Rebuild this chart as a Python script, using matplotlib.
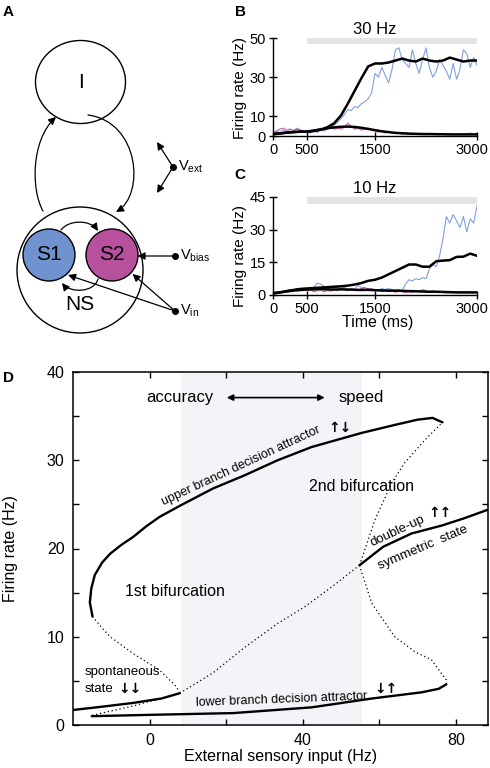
import numpy as np
import matplotlib
matplotlib.use('Agg')
import matplotlib.pyplot as plt
from matplotlib.patches import Ellipse, Circle, FancyArrowPatch
from matplotlib.path import Path
from matplotlib.transforms import ScaledTranslation

plt.rcParams['font.family'] = ['Liberation Sans', 'DejaVu Sans']
plt.rcParams['mathtext.fontset'] = 'custom'
plt.rcParams['mathtext.rm'] = 'Liberation Sans'
plt.rcParams['mathtext.it'] = 'Liberation Sans'

# ---------------- data: panels B and C ----------------
t_coarse = np.arange(0, 3001, 100)
t_fine = np.arange(0, 3001, 50)
stim_window = [500, 3000]

b_mean_s1 = [1.0, 1.3, 1.7, 2.0, 2.2, 2.2, 2.5, 3.2, 4.5, 6.5,
             10.5, 16.5, 23.0, 29.5, 35.5, 37.0, 37.0, 37.5, 38.5, 39.5,
             38.5, 38.0, 39.5, 38.5, 38.0, 38.5, 40.0, 39.0, 38.0, 38.5,
             38.5]
b_mean_s2 = [1.0, 1.3, 1.7, 2.0, 2.2, 2.3, 2.8, 3.3, 4.0, 4.4,
             4.7, 4.8, 4.6, 4.2, 3.6, 3.0, 2.4, 2.0, 1.6, 1.4,
             1.2, 1.1, 1.0, 1.0, 0.9, 0.9, 0.8, 0.8, 0.8, 0.8,
             0.8]
b_trial_s1 = [1.5, 2.5, 1.8, 3.0, 2.2, 3.5, 2.8, 4.0, 3.2, 2.5,
              2.0, 1.5, 2.8, 1.8, 3.0, 2.5, 3.5, 4.5, 5.5, 7.0,
              9.0, 11.0, 13.5, 13.0, 15.0, 14.5, 16.5, 17.5, 19.0, 22.0,
              32.0, 30.0, 35.0, 31.0, 27.0, 34.0, 44.0, 45.0, 39.0, 37.0,
              35.0, 44.0, 37.0, 32.0, 39.0, 45.0, 35.0, 30.0, 33.0, 39.0,
              36.0, 33.0, 29.0, 37.0, 29.0, 34.0, 44.0, 42.0, 35.0, 40.0,
              36.0]
b_trial_s2 = [1.5, 2.5, 3.5, 4.0, 3.0, 3.5, 2.5, 3.5, 3.0, 2.5,
              2.0, 2.5, 3.0, 3.5, 4.0, 3.0, 3.5, 4.5, 3.5, 4.0,
              3.5, 4.5, 6.5, 5.0, 3.5, 4.0, 3.0, 3.5, 4.0, 3.0,
              2.5, 2.0, 2.5, 1.5, 2.0, 1.5, 1.2, 1.5, 1.0, 1.3,
              1.0, 1.2, 0.8, 1.0, 1.2, 0.8, 1.0, 0.8, 1.2, 1.0,
              0.8, 1.0, 1.3, 1.0, 0.8, 1.2, 1.0, 1.2, 1.5, 1.0,
              1.2]

c_mean_s1 = [0.8, 1.2, 1.8, 2.3, 2.8, 3.0, 3.2, 3.4, 3.6, 3.8,
             4.0, 4.3, 4.8, 5.5, 6.5, 7.0, 8.0, 9.5, 11.0, 12.5,
             14.0, 14.0, 13.0, 13.0, 15.5, 15.8, 16.0, 17.5, 17.6, 19.0,
             18.0]
c_mean_s2 = [0.8, 1.2, 1.6, 2.0, 2.3, 2.5, 2.6, 2.7, 2.6, 2.5,
             2.6, 2.5, 2.4, 2.3, 2.4, 2.2, 2.1, 2.0, 2.0, 1.9,
             1.8, 1.7, 1.6, 1.5, 1.5, 1.4, 1.3, 1.2, 1.2, 1.2,
             1.2]
c_trial_s1 = [0.5, 1.0, 1.5, 1.0, 2.0, 1.5, 2.5, 2.0, 3.0, 2.5,
              2.0, 2.5, 3.5, 5.5, 5.0, 4.0, 3.5, 4.0, 3.0, 3.5,
              3.0, 3.5, 2.5, 3.0, 2.5, 4.5, 3.5, 2.5, 3.0, 2.0,
              2.5, 2.0, 3.0, 2.5, 3.0, 2.5, 2.0, 2.5, 2.0, 5.0,
              7.0, 6.5, 7.5, 7.0, 8.0, 7.5, 12.0, 14.0, 13.0, 18.0,
              26.0, 36.0, 33.0, 37.0, 34.0, 31.0, 36.0, 29.0, 35.0, 33.0,
              41.0]
c_trial_s2 = [0.5, 1.0, 1.5, 1.2, 2.0, 2.5, 2.0, 3.0, 2.5, 3.0,
              2.0, 2.5, 1.5, 2.0, 2.5, 1.5, 2.0, 1.8, 2.5, 2.0,
              3.0, 2.5, 2.0, 3.0, 2.5, 2.0, 3.0, 3.5, 2.5, 3.0,
              2.0, 2.5, 1.5, 2.0, 1.5, 2.0, 1.2, 1.8, 1.5, 1.0,
              1.5, 1.2, 2.0, 1.5, 2.5, 2.0, 1.5, 2.0, 1.5, 1.2,
              1.5, 1.0, 1.2, 1.5, 1.0, 1.2, 1.5, 1.0, 1.2, 1.0,
              1.2]

time_ticks = [0, 500, 1500, 3000]
b_yticks = [0, 10, 30, 50]
c_yticks = [0, 15, 30, 45]

# ---------------- data: panel D (bifurcation diagram) ----------------
upper_x = [-15.0, -15.7, -15.3, -14.4, -12.5, -10.4, -7.5, -4.4, -1.0, 2.6, 8.1,
           16.5, 24.8, 33.4, 42.3, 55.4, 64.0, 70.0, 73.9, 76.5]
upper_y = [12.3, 13.9, 15.5, 17.0, 18.4, 19.4, 20.4, 21.3, 22.5, 23.6, 24.9,
           26.8, 28.3, 30.0, 31.5, 33.1, 34.0, 34.6, 34.8, 34.3]
spont_x = [-20.1, -12.0, -4.4, 3.0, 7.8]
spont_y = [1.7, 2.1, 2.5, 3.0, 3.6]
lower_x = [-15.2, 0.0, 21.8, 42.3, 58.0, 71.0, 75.5, 77.5]
lower_y = [1.0, 1.15, 1.35, 2.0, 3.0, 3.7, 4.1, 4.6]
sym_x = [54.8, 61.0, 68.4, 76.3, 82.0, 88.4]
sym_y = [18.1, 20.2, 21.7, 22.6, 23.4, 24.4]
unst1_x = [-15.0, -12.5, -10.4, -4.4, 2.6, 7.0, 7.8]
unst1_y = [12.3, 11.0, 10.0, 8.1, 6.2, 4.3, 3.6]
unst2_x = [-15.1, -4.0, 7.8]
unst2_y = [1.1, 2.2, 3.6]
unst3_x = [7.8, 16.5, 24.8, 33.4, 40.5, 48.0, 54.8]
unst3_y = [3.6, 5.9, 8.8, 11.5, 13.4, 15.8, 18.1]
unst4_x = [54.8, 58.8, 63.2, 66.6, 71.9, 76.5]
unst4_y = [18.1, 23.2, 27.4, 29.7, 32.3, 34.3]
unst5_x = [54.8, 58.0, 64.0, 69.3, 73.6, 77.5, 77.5]
unst5_y = [18.1, 13.8, 10.0, 8.3, 7.4, 5.1, 4.6]
shade_range = [8.1, 55.4]

BLUE = '#7fa0d8'
PINK = '#c45ea3'
S1_COL = '#7092cf'
S2_COL = '#b8519d'
ARROW_FONT = ['DejaVu Sans']

fig = plt.figure(figsize=(4.9, 7.68), dpi=100)

# ---------------- panel A: schematic in pixel coordinates ----------------
axA = fig.add_axes([0, 0, 1, 1])
axA.set_xlim(0, 490)
axA.set_ylim(768, 0)
axA.axis('off')

axA.add_patch(Ellipse((80.5, 82), 90, 83, fill=False, lw=1.0, ec='k'))
axA.add_patch(Circle((80, 270), 63, fill=False, lw=1.0, ec='k'))
axA.add_patch(Circle((49, 255), 26, fc=S1_COL, ec='k', lw=1.0))
axA.add_patch(Circle((112, 255), 26, fc=S2_COL, ec='k', lw=1.0))
axA.text(80.5, 82, 'I', fontsize=15, ha='center', va='center')
axA.text(49, 255, 'S1', fontsize=15, ha='center', va='center')
axA.text(112, 255, 'S2', fontsize=15, ha='center', va='center')
axA.text(80, 305, 'NS', fontsize=15, ha='center', va='center')


def curved_arrow(pts, ms=11):
    path = Path(pts, [Path.MOVETO, Path.CURVE4, Path.CURVE4, Path.CURVE4])
    axA.add_patch(FancyArrowPatch(path=path, arrowstyle='-|>', mutation_scale=ms,
                                  lw=0.9, color='k'))


def straight_arrow(p0, p1, ms=11):
    axA.add_patch(FancyArrowPatch(p0, p1, arrowstyle='-|>', mutation_scale=ms,
                                  lw=0.9, color='k', shrinkA=0, shrinkB=0))


curved_arrow([(43, 211), (31, 190), (31, 140), (56, 117)])
curved_arrow([(88, 115), (140, 122), (145, 195), (116, 212)])
curved_arrow([(61, 230), (68, 220), (90, 219), (98, 231)])
curved_arrow([(98, 279), (94, 293), (70, 293), (62, 283)])

# external inputs
straight_arrow((173, 167), (157, 142))
straight_arrow((173, 167), (157, 193))
straight_arrow((175, 256), (137.5, 256))
straight_arrow((175, 311), (68, 275))
straight_arrow((175, 311), (132.5, 274))
for p in [(173, 167), (175, 256), (175, 311)]:
    axA.plot(*p, 'o', color='k', ms=4)
axA.text(178, 167, r'$\mathregular{V_{ext}}$', fontsize=10.5, va='center', ha='left')
axA.text(180, 256, r'$\mathregular{V_{bias}}$', fontsize=10.5, va='center', ha='left')
axA.text(180, 311, r'$\mathregular{V_{in}}$', fontsize=10.5, va='center', ha='left')

# panel letters
for lab, x, y in [('A', 8, 12), ('B', 240, 12), ('C', 240, 175), ('D', 8, 378)]:
    axA.text(x, y, lab, fontsize=11, fontweight='bold', ha='center', va='center')

# ---------------- panels B and C ----------------
def time_panel(rect, mean1, mean2, tr1, tr2, ymax, yticks, title, bar_lo):
    ax = fig.add_axes(rect)
    ax.fill_between(stim_window, bar_lo, ymax, color='#e4e4e4', lw=0)
    ax.plot(t_fine, tr1, color=BLUE, lw=0.8)
    ax.plot(t_fine, tr2, color=PINK, lw=0.8)
    ax.plot(t_coarse, mean1, color='k', lw=1.8)
    ax.plot(t_coarse, mean2, color='k', lw=1.8)
    ax.set_xlim(0, 3000)
    ax.set_ylim(0, ymax)
    ax.set_xticks(time_ticks)
    ax.set_yticks(yticks)
    for s in ['top', 'right']:
        ax.spines[s].set_visible(False)
    for s in ['left', 'bottom']:
        ax.spines[s].set_linewidth(1.0)
    ax.tick_params(direction='inout', length=6, width=1, labelsize=10.5, pad=2)
    ax.set_title(title, fontsize=12, pad=3)
    last = ax.get_xticklabels()[-1]
    last.set_transform(last.get_transform() + ScaledTranslation(-0.05, 0, fig.dpi_scale_trans))
    return ax


axB = time_panel([273 / 490, 1 - 136 / 768, 204 / 490, 98 / 768],
                 b_mean_s1, b_mean_s2, b_trial_s1, b_trial_s2, 50, b_yticks, '30 Hz', 46.8)
axC = time_panel([273 / 490, 1 - 295 / 768, 204 / 490, 98 / 768],
                 c_mean_s1, c_mean_s2, c_trial_s1, c_trial_s2, 45, c_yticks, '10 Hz', 42.0)
axA.text(240, 88, 'Firing rate (Hz)', fontsize=11, rotation=90, ha='center', va='center')
axA.text(240, 256, 'Firing rate (Hz)', fontsize=11, rotation=90, ha='center', va='center')
axA.text(378, 322, 'Time (ms)', fontsize=11.5, ha='center', va='center')

# ---------------- panel D ----------------
axD = fig.add_axes([73 / 490, 1 - 725 / 768, 415 / 490, 353 / 768])
axD.axvspan(shade_range[0], shade_range[1], color='#f3f4f7', lw=0)
solid = dict(color='k', lw=1.7, solid_capstyle='round')
dotted = dict(color='k', lw=0.9, linestyle=(0, (1, 2.2)))
axD.plot(upper_x, upper_y, **solid)
axD.plot(spont_x, spont_y, **solid)
axD.plot(lower_x, lower_y, **solid)
axD.plot(sym_x, sym_y, **solid)
for xs, ys in [(unst1_x, unst1_y), (unst2_x, unst2_y), (unst3_x, unst3_y),
               (unst4_x, unst4_y), (unst5_x, unst5_y)]:
    axD.plot(xs, ys, **dotted)
axD.set_xlim(-20.1, 88.4)
axD.set_ylim(0, 40)
axD.set_xticks([0, 20, 40, 60, 80])
axD.set_xticklabels(['0', '', '40', '', '80'])
axD.set_yticks([0, 5, 10, 15, 20, 25, 30, 35, 40])
axD.set_yticklabels(['0', '', '10', '', '20', '', '30', '', '40'])
axD.tick_params(direction='in', top=True, right=True, length=4, width=1,
                labelsize=11.5, pad=6)
for s in axD.spines.values():
    s.set_linewidth(1.1)

axD.text(7.8, 37.1, 'accuracy', fontsize=12, ha='center', va='center')
axD.text(55.3, 37.1, 'speed', fontsize=12, ha='center', va='center')
axD.annotate('', xy=(45.7, 37.1), xytext=(20.1, 37.1),
             arrowprops=dict(arrowstyle='<|-|>', color='k', lw=1.2, mutation_scale=9,
                             shrinkA=0, shrinkB=0))
axD.text(6.5, 15.1, '1st bifurcation', fontsize=11.5, ha='center', va='center')
axD.text(55.4, 27.0, '2nd bifurcation', fontsize=11.5, ha='center', va='center')
axD.text(23.8, 29.4, 'upper branch decision attractor', fontsize=9,
         rotation=25, ha='center', va='center', rotation_mode='anchor')
axD.text(49.8, 33.7, '↑↓', family=ARROW_FONT, fontsize=10, fontweight='bold',
         ha='center', va='center')
axD.text(34.5, 2.85, 'lower branch decision attractor', fontsize=9,
         rotation=2.2, ha='center', va='center', rotation_mode='anchor')
axD.text(61.6, 4.1, '↓↑', family=ARROW_FONT, fontsize=10, fontweight='bold',
         ha='center', va='center')
axD.text(64.8, 22.0, 'double-up', fontsize=9.5, rotation=25, ha='center',
         va='center', rotation_mode='anchor')
axD.text(71.3, 20.1, 'symmetric  state', fontsize=9.5, rotation=23, ha='center',
         va='center', rotation_mode='anchor')
axD.text(75.8, 24.0, '↑↑', family=ARROW_FONT, fontsize=10, fontweight='bold',
         ha='center', va='center')
axD.text(-17.0, 6.0, 'spontaneous', fontsize=9.5, ha='left', va='center')
axD.text(-17.0, 4.1, 'state', fontsize=9.5, ha='left', va='center')
axD.text(-5.3, 4.1, '↓↓', family=ARROW_FONT, fontsize=10, fontweight='bold',
         ha='center', va='center')

axA.text(10, 549, 'Firing rate (Hz)', fontsize=11.5, rotation=90, ha='center', va='center')
axA.text(281, 756, 'External sensory input (Hz)', fontsize=11.5, ha='center', va='center')

fig.savefig('out.png', dpi=100)
